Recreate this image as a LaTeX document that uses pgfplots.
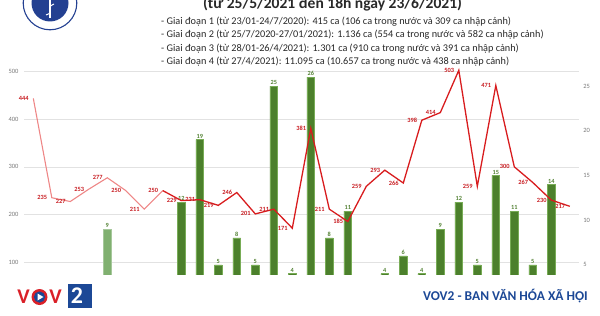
\documentclass[border=0pt]{standalone}
\usepackage{pgfplots}
\pgfplotsset{compat=1.18}
\usepackage{fontspec}
\setmainfont{Carlito}
\definecolor{lred}{RGB}{238,135,135}
\definecolor{dred}{RGB}{216,28,30}
\definecolor{labred}{RGB}{200,30,35}
\definecolor{bgreen}{RGB}{76,128,44}
\definecolor{bgreenedge}{RGB}{120,172,86}
\definecolor{lgreen}{RGB}{128,176,112}
\definecolor{txtgreen}{RGB}{84,130,53}
\definecolor{gridc}{RGB}{226,226,226}
\definecolor{tickc}{RGB}{120,120,120}
\definecolor{mohblue}{RGB}{35,64,145}
\definecolor{vovblue}{RGB}{28,72,150}
\definecolor{vovred}{RGB}{218,32,40}
\definecolor{titc}{RGB}{40,40,40}
\pgfplotsset{
  /pgf/number format/assume math mode=true,
  base/.style={scale only axis, width=555bp, height=237.8bp, xmin=-0.5, xmax=29.5,
    anchor=south west, at={(24.05bp,5.5bp)}, axis line style={draw=none},
    major tick length=0pt, xtick=\empty, clip=false,
    ticklabel style={font=\fontsize{6.5}{7}\selectfont, text=tickc}},
}
\begin{document}
\begin{tikzpicture}[x=1bp,y=1bp]
\useasboundingbox (0,0) rectangle (600,315);
\begin{scope}
\clip (0,0) rectangle (600,315);
% grid + left labels
\begin{axis}[base, ymin=0, ymax=500, ytick={100,200,300,400,500},
  ymajorgrids, grid style={gridc, line width=0.6bp},
  yticklabel style={anchor=east, inner sep=0pt, xshift=-5.5bp}]
\addplot[draw=none] coordinates {(0,0)};
\end{axis}
% bars, right axis
\begin{axis}[base, ymin=0, ymax=26.6, ytick={5,10,15,20,25}, yticklabel pos=right,
  yticklabel style={anchor=west, inner sep=0pt, xshift=4bp},
  ybar, bar width=7.8bp,
  nodes near coords,
  every node near coord/.append style={font=\fontsize{6.3}{6.3}\selectfont\bfseries, text=txtgreen, inner sep=1bp}]
\addplot[fill=lgreen, draw=lgreen!70!white, bar shift=0pt, line width=0.5bp] coordinates {(4,9)};
\addplot[fill=bgreen, draw=bgreenedge, bar shift=0pt, line width=0.5bp] coordinates {
(0,3) (3,3) (6,3) (8,12) (9,19) (10,5) (11,8) (12,5) (13,25) (14,4) (15,26) (16,8) (17,11)
(19,4) (20,6) (21,4) (22,9) (23,12) (24,5) (25,15) (26,11) (27,5) (28,14) (29,3)};
\end{axis}
% line, left scale
\begin{axis}[base, ymin=0, ymax=500, ytick=\empty]
\addplot[lred, line width=1.1bp, mark=none] coordinates {
(0,444) (1,235) (2,227) (3,253) (4,277) (5,250) (6,211) (7,250)};
\addplot[dred, line width=1.3bp, mark=none] coordinates {
(7,250) (8,229) (9,231) (10,219) (11,246) (12,201) (13,211) (14,171) (15,381) (16,211)
(17,185) (18,259) (19,293) (20,266) (21,398) (22,414) (23,503) (24,259) (25,471) (26,300)
(27,267) (28,230) (29,217)};
\addplot[draw=none, mark=none, nodes near coords,
  every node near coord/.append style={anchor=east, xshift=-4bp, yshift=0bp, font=\fontsize{6.4}{6.4}\selectfont\bfseries, text=labred, inner sep=0.5bp}] coordinates {
(0,444) (1,235) (2,227) (3,253) (4,277) (5,250) (6,211) (7,250)
(8,229) (9,231) (10,219) (11,246) (12,201) (13,211) (14,171) (15,381) (16,211)
(17,185) (18,259) (19,293) (20,266) (21,398) (22,414) (23,503) (24,259) (25,471) (26,300)
(27,267) (28,230) (29,217)};
\end{axis}
% bottom band
\fill[white] (0,0) rectangle (600,40);
% header
\fill[white] (50,312) circle (27.5);
\draw[mohblue, line width=1.1bp] (50,312) circle (26.8);
\fill[mohblue] (50,312) circle (18.5);
\draw[white, line width=1.4bp] (50,297) -- (50,318);
\draw[white, line width=1bp] (46,300) .. controls (56,303) and (44,307) .. (54,311);
\node[anchor=base, font=\fontsize{15.6}{16}\selectfont\bfseries, text=titc, inner sep=0pt] at (332.5,307) {(từ 25/5/2021 đến 18h ngày 23/6/2021)};
\begin{scope}[every node/.style={anchor=base west, inner sep=0pt, font=\fontsize{10.3}{11}\selectfont, text=titc}]
\node at (161,291) {- Giai đoạn 1 (từ 23/01-24/7/2020): 415 ca (106 ca trong nước và 309 ca nhập cảnh)};
\node at (161,277.5) {- Giai đoạn 2 (từ 25/7/2020-27/01/2021): 1.136 ca (554 ca trong nước và 582 ca nhập cảnh)};
\node at (161,264) {- Giai đoạn 3 (từ 28/01-26/4/2021): 1.301 ca (910 ca trong nước và 391 ca nhập cảnh)};
\node at (161,250.5) {- Giai đoạn 4 (từ 27/4/2021): 11.095 ca (10.657 ca trong nước và 438 ca nhập cảnh)};
\end{scope}
% VOV logo
\node[text=vovred, font=\fontsize{21}{21}\selectfont\bfseries, inner sep=0pt] at (23.5,18) {V};
\fill[vovred] (39.5,18) circle (8);
\fill[vovblue] (39.5,18) circle (5.6);
\fill[white] (37.5,21.5) -- (37.5,14.5) -- (43.5,18) -- cycle;
\node[text=vovred, font=\fontsize{21}{21}\selectfont\bfseries, inner sep=0pt] at (55.5,18) {V};
\fill[vovblue] (68,7) rectangle (92,31);
\node[text=white, font=\fontsize{24}{24}\selectfont\bfseries, inner sep=0pt] at (77,19.5) {2};
\node[anchor=east, text=vovblue, font=\fontsize{13.5}{14}\selectfont\bfseries, inner sep=0pt] at (588,19) {VOV2 - BAN VĂN HÓA XÃ HỘI};
\end{scope}
\end{tikzpicture}
\end{document}
